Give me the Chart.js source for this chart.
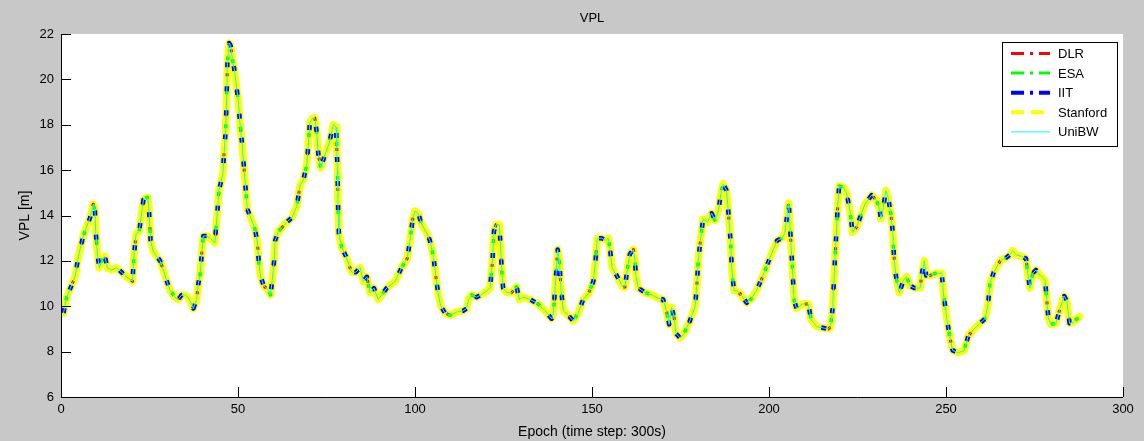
<!DOCTYPE html>
<html>
<head>
<meta charset="utf-8">
<title>VPL</title>
<script src="https://cdn.jsdelivr.net/npm/chart.js@4.4.0/dist/chart.umd.min.js"></script>
<style>
  html, body { margin: 0; padding: 0; background: #c8c8c8; }
  canvas { display: block; }
</style>
</head>
<body>
<canvas id="vpl" width="1144" height="441"></canvas>
<script>
// VPL per epoch (time step 300 s); all five processing centres give the same curve
var epochs = [
  0.7, 1.6, 4.0, 4.9, 6.3, 8.2, 9.1, 9.6, 9.8, 10.3, 10.8, 11.5, 12.4, 13.1, 14.3, 15.7, 17.1, 18.5, 20.2, 20.6,
  21.2, 22.1, 22.6, 23.3, 24.4, 24.8, 25.0, 25.3, 26.1, 28.0, 28.9, 29.7, 30.8, 32.2, 33.1, 34.1, 35.0, 35.8, 36.9, 37.4,
  38.3, 38.8, 39.3, 39.7, 40.2, 41.2, 42.1, 43.5, 43.8, 44.2, 44.6, 45.7, 46.0, 46.5, 46.8, 47.0, 47.5, 47.9, 48.5, 48.9,
  49.4, 50.1, 50.6, 51.2, 51.7, 52.2, 52.6, 53.6, 54.8, 55.5, 55.9, 56.4, 57.3, 58.6, 59.2, 59.7, 60.2, 60.5, 61.4, 62.6,
  63.7, 65.2, 66.6, 67.5, 68.5, 69.4, 69.9, 70.3, 71.1, 71.7, 72.2, 72.7, 73.4, 74.6, 75.8, 76.9, 77.7, 77.9, 78.1, 78.2,
  78.3, 78.5, 79.3, 80.5, 82.1, 83.3, 84.5, 85.4, 86.4, 87.3, 88.4, 89.6, 90.6, 92.0, 94.4, 96.2, 97.8, 98.6, 99.3, 100.0,
  100.9, 101.9, 103.1, 104.2, 105.2, 105.9, 106.6, 107.3, 108.5, 109.9, 111.8, 113.6, 114.6, 115.1, 116.0, 117.4, 119.3, 121.2, 121.9, 122.3,
  122.9, 123.8, 124.2, 124.5, 124.9, 125.9, 127.3, 128.7, 129.5, 130.6, 132.5, 134.8, 136.7, 138.6, 139.1, 139.8, 140.3, 140.8, 141.2, 141.9,
  143.3, 144.7, 146.1, 147.5, 149.0, 150.4, 151.1, 151.5, 152.7, 154.0, 154.6, 155.1, 155.7, 157.0, 158.7, 159.3, 160.0, 160.7, 161.7, 162.1,
  162.4, 163.1, 165.0, 166.9, 168.7, 170.1, 171.1, 171.8, 172.5, 173.2, 173.7, 174.9, 176.0, 177.5, 179.1, 179.7, 180.0, 180.7, 181.4, 182.6,
  183.8, 184.7, 185.7, 186.4, 187.1, 188.0, 188.5, 189.2, 189.5, 190.1, 191.3, 192.6, 193.7, 195.1, 196.5, 198.2, 199.8, 201.2, 202.3, 203.6,
  204.5, 205.2, 205.6, 206.1, 206.6, 207.1, 207.8, 209.5, 211.1, 211.9, 213.5, 216.8, 217.4, 218.0, 218.6, 219.3, 219.8, 221.0, 221.9, 222.9,
  223.6, 224.8, 225.7, 227.1, 229.0, 230.4, 231.2, 231.6, 232.3, 233.0, 233.7, 234.4, 235.0, 235.3, 235.9, 236.8, 238.0, 238.9, 239.8, 241.2,
  242.7, 243.2, 243.9, 244.4, 245.5, 246.9, 248.8, 249.3, 250.1, 251.0, 251.9, 253.5, 255.1, 256.3, 257.7, 259.6, 261.0, 261.9, 262.4, 263.5,
  265.3, 267.1, 268.3, 268.8, 270.0, 271.4, 272.6, 273.1, 273.7, 274.5, 275.4, 276.6, 278.0, 278.4, 278.9, 279.6, 281.1, 282.2, 283.4, 284.1,
  284.9, 286.0, 287.7
];
var vpl = [
  9.7, 10.4, 11.3, 12.2, 13.1, 13.9, 14.5, 14.2, 13.3, 12.3, 11.7, 12.0, 12.2, 11.7, 11.6, 11.7, 11.5, 11.3, 11.1, 12.2,
  13.2, 13.3, 13.9, 14.7, 14.8, 14.4, 13.8, 12.9, 12.4, 12.0, 11.6, 11.2, 10.7, 10.4, 10.3, 10.5, 10.5, 10.4, 10.1, 9.9,
  10.3, 11.0, 11.4, 12.2, 13.1, 13.1, 13.0, 12.8, 13.5, 14.2, 15.1, 15.8, 16.6, 17.7, 19.2, 20.7, 21.6, 21.5, 20.8, 20.5,
  19.9, 19.0, 18.0, 17.1, 16.1, 15.1, 14.3, 13.9, 13.4, 12.8, 11.9, 11.3, 10.9, 10.7, 10.5, 11.2, 12.0, 12.9, 13.3, 13.5,
  13.7, 13.9, 14.4, 15.3, 15.6, 16.2, 17.2, 18.1, 18.3, 18.3, 17.7, 16.7, 16.1, 16.7, 17.2, 18.0, 17.9, 17.0, 16.0, 15.1,
  14.1, 13.2, 12.6, 12.2, 11.5, 11.5, 11.7, 11.1, 11.3, 10.6, 10.8, 10.3, 10.5, 10.8, 11.1, 11.7, 12.1, 12.9, 13.8, 14.2,
  14.1, 13.6, 13.3, 12.9, 12.2, 11.3, 10.5, 10.0, 9.7, 9.6, 9.75, 9.8, 9.9, 10.3, 10.5, 10.4, 10.55, 10.8, 12.0, 13.3,
  13.6, 13.6, 12.6, 11.6, 10.8, 10.6, 10.6, 10.85, 10.3, 10.4, 10.3, 10.1, 9.8, 9.45, 9.7, 11.3, 12.5, 12.0, 10.85, 9.8,
  9.6, 9.35, 9.7, 10.3, 10.55, 11.1, 12.2, 13.0, 13.0, 12.9, 13.0, 12.5, 11.7, 11.35, 10.85, 10.85, 11.65, 12.3, 12.5, 12.1,
  11.35, 10.8, 10.6, 10.5, 10.35, 10.3, 9.75, 9.2, 9.95, 9.5, 8.8, 8.6, 8.8, 9.3, 9.95, 11.1, 12.0, 13.0, 13.85, 13.7,
  14.1, 13.8, 14.2, 14.95, 15.4, 15.1, 14.2, 12.75, 11.6, 10.7, 10.65, 10.4, 10.15, 10.35, 10.7, 11.3, 11.95, 12.5, 12.9, 13.0,
  13.2, 14.1, 14.55, 13.05, 11.7, 10.25, 9.9, 10.1, 10.1, 9.4, 9.1, 9.0, 9.1, 9.95, 12.0, 14.1, 15.3, 15.25, 15.0, 14.2,
  13.25, 13.5, 13.9, 14.5, 14.9, 14.65, 14.3, 13.85, 14.35, 15.1, 14.75, 14.1, 13.2, 12.2, 11.3, 10.6, 11.15, 11.3, 10.9, 10.8,
  10.8, 11.45, 12.0, 11.35, 11.35, 11.45, 11.45, 10.55, 9.6, 8.7, 8.05, 7.95, 8.05, 8.7, 8.95, 9.25, 9.45, 10.1, 11.0, 11.5,
  12.0, 12.15, 12.3, 12.45, 12.25, 12.2, 12.1, 11.45, 10.8, 11.45, 11.6, 11.35, 11.15, 10.4, 9.5, 9.2, 9.25, 9.9, 10.45, 10.25,
  9.25, 9.3, 9.55
];
var centres = ['DLR', 'ESA', 'IIT', 'Stanford', 'UniBW'];
var xTicks = [0, 50, 100, 150, 200, 250, 300];
var yTicks = [6, 8, 10, 12, 14, 16, 18, 20, 22];

var points = epochs.map(function (e, i) { return { x: e, y: vpl[i] }; });

var sans = "'Liberation Sans', Arial, Helvetica, sans-serif";

// line look in the plot and the matching legend sample
var looks = {
    DLR:      { color: '#ff0000', width: 3,   dash: [3, 37],  offset: 9,  key: [13, 6, 3, 6], keyWidth: 3, order: 3 },
    ESA:      { color: '#00ff00', width: 3.5, dash: [4, 30],  offset: 21, key: [13, 6, 3, 6], keyWidth: 3, order: 2 },
    IIT:      { color: '#0000ff', width: 4.5, dash: [5, 19],  offset: 0,  key: [13, 6, 3, 6], keyWidth: 4, order: 1 },
    Stanford: { color: '#ffff00', width: 7.5, dash: [],       offset: 0,  key: [13, 7],       keyWidth: 4, order: 4 },
    UniBW:    { color: '#00ffff', width: 1,   dash: [],       offset: 0,  key: [],            keyWidth: 1, order: 0 }
};

var datasets = centres.map(function (name) {
    var s = looks[name];
    return {
        label: name,
        data: points,
        borderColor: s.color,
        backgroundColor: s.color,
        borderWidth: s.width,
        borderDash: s.dash,
        borderDashOffset: s.offset,
        borderJoinStyle: 'round',
        borderCapStyle: name === 'Stanford' ? 'round' : 'butt',
        pointRadius: 0,
        tension: 0,
        fill: false,
        order: s.order
    };
});

// grey figure, white axes, title, inward ticks and the boxed legend
var matlabFrame = {
    id: 'matlabFrame',
    beforeDraw: function (chart) {
        var ctx = chart.ctx, a = chart.chartArea;
        ctx.save();
        ctx.fillStyle = '#c8c8c8';
        ctx.fillRect(0, 0, chart.width, chart.height);
        ctx.fillStyle = '#ffffff';
        ctx.fillRect(a.left, a.top, a.right - a.left, a.bottom - a.top);
        ctx.fillStyle = '#000';
        ctx.font = '13px ' + sans;
        ctx.textAlign = 'center';
        ctx.textBaseline = 'middle';
        ctx.fillText('VPL', (a.left + a.right) / 2, 18);
        ctx.restore();
    },
    afterDatasetsDraw: function (chart) {
        var ctx = chart.ctx, a = chart.chartArea;
        var x = chart.scales.x, y = chart.scales.y;
        ctx.save();
        ctx.strokeStyle = '#000';
        ctx.lineWidth = 1;
        ctx.setLineDash([]);
        ctx.beginPath();
        ctx.moveTo(a.left + 0.5, a.top);
        ctx.lineTo(a.left + 0.5, a.bottom + 0.5);
        ctx.lineTo(a.right, a.bottom + 0.5);
        xTicks.forEach(function (v) {
            var px = Math.round(x.getPixelForValue(v)) + 0.5;
            ctx.moveTo(px, a.bottom);
            ctx.lineTo(px, a.bottom - 10);
        });
        yTicks.forEach(function (v) {
            var py = Math.round(y.getPixelForValue(v)) + 0.5;
            ctx.moveTo(a.left, py);
            ctx.lineTo(a.left + 10, py);
        });
        ctx.stroke();

        // legend box
        var bx = a.right - 121, by = a.top + 8, bw = 115, bh = 104;
        ctx.fillStyle = '#ffffff';
        ctx.fillRect(bx, by, bw, bh);
        ctx.strokeRect(bx + 0.5, by + 0.5, bw, bh);
        ctx.font = '13px ' + sans;
        ctx.textBaseline = 'middle';
        centres.forEach(function (name, i) {
            var s = looks[name];
            var ly = by + 11.5 + i * 19.6;
            ctx.beginPath();
            ctx.strokeStyle = s.color;
            ctx.lineWidth = s.keyWidth;
            ctx.setLineDash(s.key);
            ctx.moveTo(bx + 9, ly);
            ctx.lineTo(bx + 48, ly);
            ctx.stroke();
            ctx.setLineDash([]);
            ctx.fillStyle = '#000';
            ctx.fillText(name, bx + 56, ly + 1);
        });
        ctx.restore();
    }
};

new Chart(document.getElementById('vpl'), {
    type: 'line',
    data: { datasets: datasets },
    plugins: [matlabFrame],
    options: {
        responsive: false,
        animation: false,
        events: [],
        layout: { padding: { top: 34, right: 21, bottom: 0, left: 0 } },
        plugins: {
            legend: { display: false },
            tooltip: { enabled: false },
            title: { display: false }
        },
        scales: {
            x: {
                type: 'linear',
                min: 0,
                max: 300,
                afterFit: function (scale) { scale.height = 44; },
                afterBuildTicks: function (scale) {
                    scale.ticks = xTicks.map(function (v) { return { value: v }; });
                },
                grid: { display: false, drawTicks: false },
                border: { display: false },
                ticks: {
                    color: '#000',
                    padding: 5,
                    maxRotation: 0,
                    font: { family: sans, size: 13 }
                },
                title: {
                    display: true,
                    text: 'Epoch (time step: 300s)',
                    color: '#000',
                    font: { family: sans, size: 14 },
                    padding: { top: 4.6, bottom: 0 }
                }
            },
            y: {
                type: 'linear',
                min: 6,
                max: 22,
                afterFit: function (scale) { scale.width = 61; },
                afterBuildTicks: function (scale) {
                    scale.ticks = yTicks.map(function (v) { return { value: v }; });
                },
                grid: { display: false, drawTicks: false },
                border: { display: false },
                ticks: {
                    color: '#000',
                    padding: 7,
                    font: { family: sans, size: 13 }
                },
                title: {
                    display: true,
                    text: 'VPL [m]',
                    color: '#000',
                    font: { family: sans, size: 14 },
                    padding: { top: 16.6, bottom: 0 }
                }
            }
        }
    }
});
</script>
</body>
</html>
